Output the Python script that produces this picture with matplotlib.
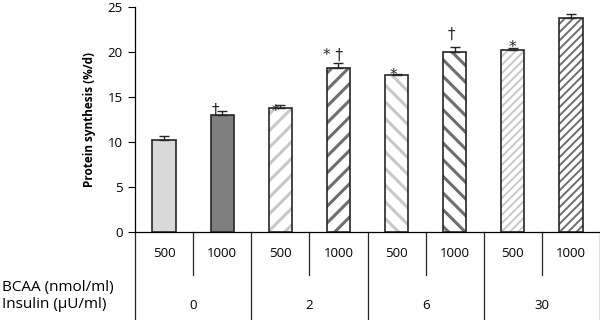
import matplotlib
matplotlib.use("Agg")
import matplotlib.pyplot as plt
import numpy as np

# data
bcaa = ["500", "1000", "500", "1000", "500", "1000", "500", "1000"]
insulin = ["0", "2", "6", "30"]
synthesis = [10.2, 13.0, 13.8, 18.2, 17.4, 20.0, 20.2, 23.8]
sem = [0.5, 0.4, 0.3, 0.6, 0.2, 0.6, 0.2, 0.4]
marks = ["", "\u2020", "*", "* \u2020", "*", "\u2020", "*", ""]

# styling per bar
fills = ["#d9d9d9", "#7f7f7f", "white", "white", "white", "white", "white", "white"]
hatch_colors = ["#d9d9d9", "#7f7f7f", "#c8c8c8", "#6e6e6e", "#c8c8c8", "#6e6e6e", "#c8c8c8", "#6e6e6e"]
hatches = [None, None, "//", "//", "\\\\", "\\\\", "////", "////"]
hatch_lw = [1.0, 1.0, 2.2, 2.2, 2.2, 2.2, 1.4, 1.4]
mark_offsets = [(0, 0), (-7, 1), (-5, -6), (-5, 8), (-3, -2), (-3, 12), (0, 1), (0, 0)]

plt.rcParams["font.family"] = ["Open Sans", "DejaVu Sans"]

fig = plt.figure(figsize=(6.0, 3.2), dpi=100)
ax = fig.add_axes([135 / 600, 88 / 320, 465 / 600, 225 / 320])

x = np.arange(len(synthesis))
width = 0.4
for i in x:
    with plt.rc_context({"hatch.linewidth": hatch_lw[i]}):
        ax.bar(i, synthesis[i], width, color=fills[i], edgecolor=hatch_colors[i],
               hatch=hatches[i], linewidth=0, zorder=2)
    ax.bar(i, synthesis[i], width, fill=False, edgecolor="#262626", linewidth=1.2, zorder=3)

ax.errorbar(x, synthesis, yerr=[np.zeros(len(sem)), sem], fmt="none",
            ecolor="#262626", elinewidth=1.0, capsize=3.5, capthick=1.0, zorder=4)

for i in x:
    if marks[i]:
        ax.annotate(marks[i], (i, synthesis[i] + sem[i]), xytext=mark_offsets[i],
                    textcoords="offset pixels", ha="center", va="center",
                    fontsize=11, color="#262626", family=["DejaVu Sans"])

ax.set_xlim(-0.5, len(synthesis) - 0.5)
ax.set_ylim(0, 25)
ax.set_yticks(np.arange(0, 26, 5))
ax.tick_params(axis="y", direction="out", length=5, width=0.8, labelsize=9.5, pad=4)
ax.set_xticks([])
for side in ["top", "right"]:
    ax.spines[side].set_visible(False)
ax.spines["left"].set_linewidth(0.9)
ax.spines["bottom"].set_linewidth(0.9)
ax.set_ylabel("Protein synthesis (%/d)", fontsize=8.5, fontweight="bold", labelpad=8)

# table below the axis
trans = ax.get_xaxis_transform()
for k in range(len(synthesis) + 1):
    bottom = -0.40 if k % 2 == 0 else -0.19
    ax.plot([k - 0.5, k - 0.5], [0, bottom], transform=trans, color="#262626",
            lw=0.9, clip_on=False)
for i in x:
    ax.text(i, -0.095, bcaa[i], transform=trans, ha="center", va="center", fontsize=9.5)
for g, lab in enumerate(insulin):
    ax.text(2 * g + 0.5, -0.325, lab, transform=trans, ha="center", va="center", fontsize=9.5)

fig.text(2 / 600, 1 - 287 / 320, "BCAA (nmol/ml)", ha="left", va="center", fontsize=11)
fig.text(2 / 600, 1 - 305 / 320, "Insulin (\u00b5U/ml)", ha="left", va="center", fontsize=11)

fig.savefig("out.png", dpi=100)
